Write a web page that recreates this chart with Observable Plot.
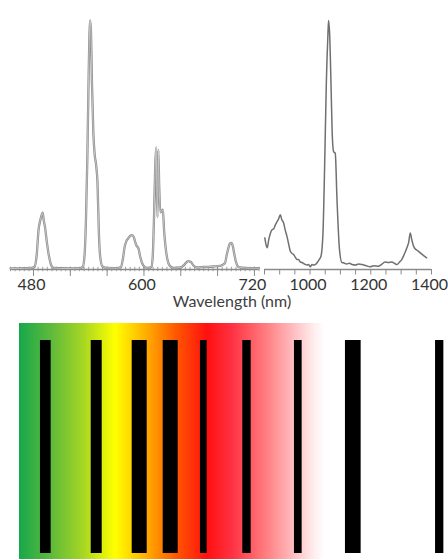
<!DOCTYPE html>
<html><head><meta charset="utf-8">
<script src="https://cdn.jsdelivr.net/npm/d3@7"></script>
<script src="https://cdn.jsdelivr.net/npm/@observablehq/plot@0.6"></script>
<style>
body{margin:0;background:#fff;}
#wrap{position:relative;width:448px;height:559px;overflow:hidden;font-family:Lato,"Open Sans",sans-serif;}
#top{position:absolute;left:0;top:0;}
#xlabel{position:absolute;left:0;top:294px;width:464px;text-align:center;font-size:16px;line-height:14px;color:#404040;font-family:Lato,"Open Sans",sans-serif;}
#bottom{position:absolute;left:0;top:323px;}
</style></head><body>
<div id="wrap"><div id="top"></div><div id="xlabel">Wavelength (nm)</div><div id="bottom"></div></div>
<script>
// Visible panel spectrum (nm, normalised intensity)
const visNm  = [455,470,478,481,483.5,485.5,487.5,489,490,491,492.5,494.5,497,499.5,502,515,530,533.5,535.5,537,538.5,540,541.5,542.5,543.5,545,546.5,548,549.5,551,552.5,555,560,570,575,577,579,581,583,585,587,589,590.5,592,594,596,598,601,605,608,609.5,611,612.3,613.3,614,614.8,615.6,616.6,617.8,619.5,620.5,622,623.5,625.5,628,632,640,644,648,651,654,658,665,675,683,688,690,692,693.5,695,696.5,698,700,703,710,720,725];
const visVal = [0.004,0.005,0.006,0.01,0.06,0.16,0.2,0.22,0.228,0.2,0.17,0.11,0.05,0.015,0.006,0.004,0.005,0.01,0.06,0.2,0.45,0.8,1.0,0.95,0.75,0.55,0.46,0.42,0.35,0.15,0.05,0.012,0.006,0.005,0.01,0.04,0.09,0.115,0.125,0.135,0.138,0.13,0.11,0.095,0.085,0.05,0.025,0.01,0.006,0.01,0.05,0.22,0.42,0.49,0.3,0.21,0.48,0.33,0.23,0.235,0.24,0.15,0.09,0.04,0.015,0.006,0.008,0.02,0.034,0.03,0.015,0.008,0.01,0.012,0.015,0.025,0.06,0.09,0.105,0.107,0.095,0.065,0.03,0.01,0.006,0.005,0.005];
// NIR panel spectrum
const nirNm  = [851,855,859,864,870,875,880,886,892,897,902,907,913,918,924,930,935,940,946,951,957,962,968,973,979,985,990,995,1001,1006,1012,1017,1025,1030,1036,1042.6,1048,1053.6,1059,1061,1064.5,1069,1073,1077.6,1083,1088.8,1097,1105,1110,1120,1130,1138,1150,1160,1171,1185,1198,1210,1225,1235,1247,1258,1269,1278,1286,1295,1302,1310,1319,1325,1330,1335,1341,1349,1357,1365,1375,1384];
const nirVal = [0.127,0.1,0.087,0.12,0.148,0.16,0.163,0.18,0.193,0.205,0.22,0.2,0.187,0.16,0.133,0.1,0.073,0.065,0.06,0.05,0.04,0.04,0.03,0.028,0.024,0.02,0.018,0.02,0.011,0.02,0.018,0.02,0.03,0.04,0.053,0.147,0.413,0.747,0.947,1.0,0.947,0.747,0.547,0.473,0.467,0.28,0.08,0.028,0.027,0.022,0.025,0.02,0.018,0.022,0.02,0.015,0.011,0.015,0.013,0.02,0.03,0.028,0.03,0.025,0.02,0.03,0.04,0.06,0.087,0.11,0.147,0.12,0.093,0.08,0.073,0.065,0.055,0.047];

// Axis definitions
const axisFrom = [455, 850];
const axisTo   = [725, 1400];
const visMajorTicks = [480,520,560,600,640,680,720];
const visMinorTicks = d3.range(455, 726, 5);
const nirTicks = [850,900,950,1000,1050,1100,1150,1200,1250,1300,1350,1400];
const visTickLabels = [480,600,720];
const nirTickLabels = [1000,1200,1400];

// Bottom schematic strip (strip position units)
const stripStops  = [19,50,83,115,133,153,177,207,233,267,293,315,325];
const stripColors = ["#17a84b","#5cb93c","#a6d623","#ffff00","#ffd200","#ff9a00","#ff5500","#ff1010","#ff3344","#ff8082","#ffbcc0","#fff0f0","#ffffff"];
const barPos   = [45.3,96.2,139.2,170.2,203.3,246.5,297.8,352.8,439.2];
const barWidth = [10.7,11,15,15,6.7,8.4,7.7,15.7,8.3];

const visData = visNm.map((x,i)=>({x, y: visVal[i]}));
const nirData = nirNm.map((x,i)=>({x, y: nirVal[i]}));
const axisSegs = axisFrom.map((a,i)=>({a, b: axisTo[i]}));

const topChart = Plot.plot({
  width: 448, height: 300, marginTop: 20, marginBottom: 31, marginLeft: 0, marginRight: 0,
  style: {fontFamily: "Lato, 'Open Sans', sans-serif", background: "transparent"},
  x: {type: "linear", domain: [455, 725, 850, 1400], range: [10, 258.5, 264, 431], axis: null},
  y: {domain: [0, 1], axis: null},
  marks: [
    Plot.ruleY(axisSegs, {y: 0, x1: "a", x2: "b", stroke: "#8a8a8a", strokeWidth: 1.3}),
    Plot.ruleX(visMinorTicks, {x: d=>d, y1: -0.009, y2: 0.009, stroke: "#8a8a8a", strokeWidth: 0.8}),
    Plot.ruleX(visMajorTicks, {x: d=>d, y1: -0.028, y2: 0.009, stroke: "#8a8a8a", strokeWidth: 1}),
    Plot.ruleX(nirTicks, {x: d=>d, y1: -0.022, y2: 0, stroke: "#8a8a8a", strokeWidth: 1}),
    Plot.line(visData, {x: "x", y: "y", stroke: "#8c8c8c", strokeWidth: 2.3, curve: "monotone-x"}),
    Plot.line(visData, {x: "x", y: "y", stroke: "#dcdcdc", strokeWidth: 0.7, curve: "monotone-x"}),
    Plot.line(nirData, {x: "x", y: "y", stroke: "#707070", strokeWidth: 1.5, curve: "monotone-x"}),
    Plot.text(visTickLabels, {x: d=>d, y: 0, dy: 15, dx: -2, text: d=>String(d), fontSize: 16, fill: "#333"}),
    Plot.text(nirTickLabels, {x: d=>d, y: 0, dy: 15, dx: -2, text: d=>String(d), fontSize: 16, fill: "#333"})
  ]
});
document.getElementById("top").appendChild(topChart);

const cells = d3.range(19, 325, 1).map(p=>({x1: p, x2: p + 1.05, c: p + 0.5}));
const bars = barPos.map((p,i)=>({x1: p - barWidth[i]/2, x2: p + barWidth[i]/2}));

const bottomChart = Plot.plot({
  width: 448, height: 236, margin: 0,
  style: {background: "transparent"},
  x: {domain: [0, 448], range: [0, 448], axis: null},
  y: {domain: [0, 1], range: [230, 17], axis: null},
  color: {type: "linear", domain: stripStops, range: stripColors, interpolate: "rgb", clamp: true},
  marks: [
    Plot.rect(cells, {x1: "x1", x2: "x2", fill: "c"}),
    Plot.rect(bars, {x1: "x1", x2: "x2", y1: 0, y2: 1, fill: "#000"})
  ]
});
document.getElementById("bottom").appendChild(bottomChart);
</script>
</body></html>
